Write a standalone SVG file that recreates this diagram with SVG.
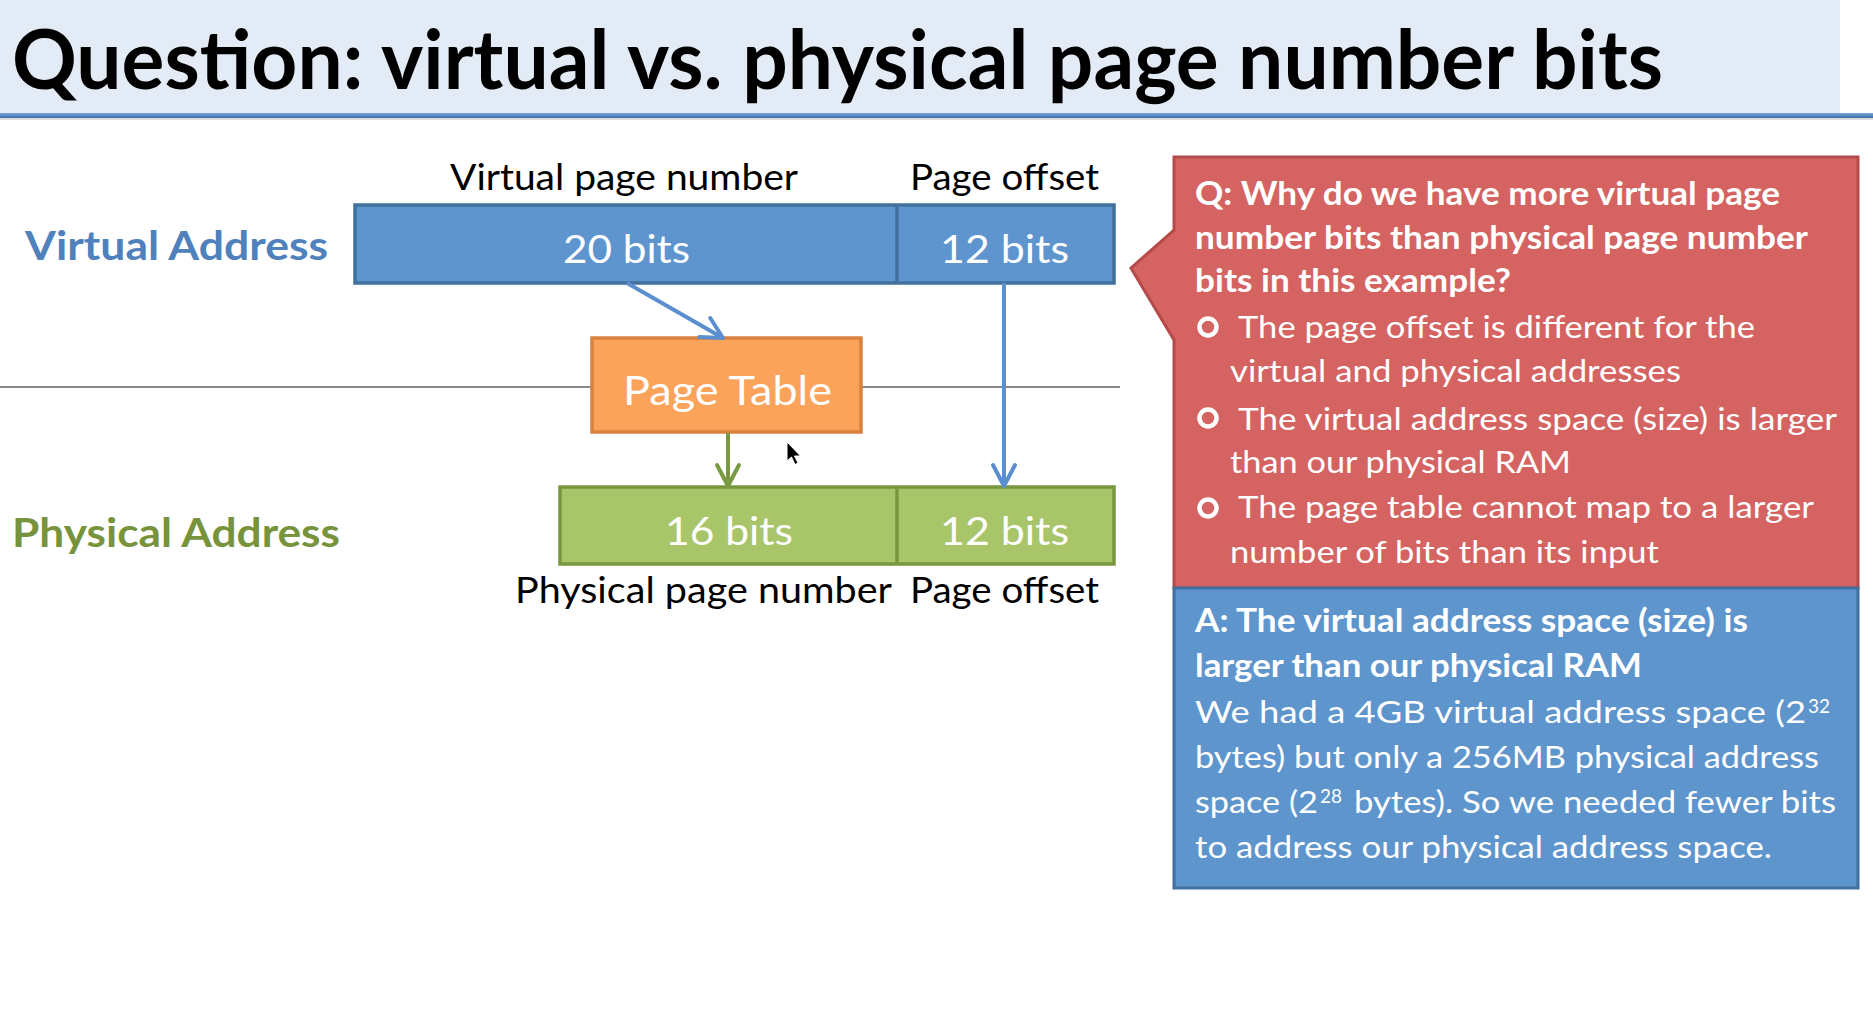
<svg xmlns="http://www.w3.org/2000/svg" width="1873" height="1024" viewBox="0 0 1873 1024">
<style>
text{font-family:Lato,"Open Sans","Liberation Sans",sans-serif}
.lbl{font-size:37px;fill:#000}
.bits{font-size:39px;fill:#fff}
.qb{font-size:32px;font-weight:bold;fill:#fff}
.qr{font-size:31px;fill:#fff}
.sup{font-size:20px;fill:#fff}
.bul{fill:none;stroke:#fff;stroke-width:4.5}
</style>
<defs>
<linearGradient id="bar" x1="0" y1="0" x2="0" y2="1">
<stop offset="0" stop-color="#7aa6d8"/>
<stop offset="1" stop-color="#3c6eab"/>
</linearGradient>
<marker id="ahB" markerUnits="userSpaceOnUse" orient="auto" refX="0" refY="0" overflow="visible">
<path d="M-21,-11 L0,0 L-21,11" fill="none" stroke="#5b8fcf" stroke-width="4" stroke-linecap="round" stroke-linejoin="round"/>
</marker>
<marker id="ahG" markerUnits="userSpaceOnUse" orient="auto" refX="0" refY="0" overflow="visible">
<path d="M-21,-11 L0,0 L-21,11" fill="none" stroke="#7a9a42" stroke-width="4" stroke-linecap="round" stroke-linejoin="round"/>
</marker>
</defs>
<rect width="1873" height="1024" fill="#fff"/>
<g id="title">
<rect x="0" y="0" width="1840" height="113" fill="#e3ecf6"/>
<rect x="0" y="113" width="1873" height="5" fill="url(#bar)"/>
<rect x="0" y="118" width="1873" height="2" fill="#dcdcdc"/>
<text x="12" y="89" font-size="82" font-weight="bold" fill="#000" textLength="1651" lengthAdjust="spacingAndGlyphs">Question: virtual vs. physical page number bits</text>
</g>
<line x1="0" y1="387" x2="1120" y2="387" stroke="#8a8a8a" stroke-width="2"/>
<g id="virtual-address">
<text x="25" y="260" font-size="40" font-weight="bold" fill="#4f81bd" textLength="303" lengthAdjust="spacingAndGlyphs">Virtual Address</text>
<text class="lbl" x="450" y="190" textLength="348" lengthAdjust="spacingAndGlyphs">Virtual page number</text>
<text class="lbl" x="910" y="190" textLength="189" lengthAdjust="spacingAndGlyphs">Page offset</text>
<rect x="355" y="205" width="759" height="78" fill="#5e95cf" stroke="#41719c" stroke-width="3.5"/>
<line x1="897" y1="205" x2="897" y2="283" stroke="#41719c" stroke-width="3.5"/>
<text class="bits" x="563" y="263" textLength="127" lengthAdjust="spacingAndGlyphs">20 bits</text>
<text class="bits" x="940" y="263" textLength="129" lengthAdjust="spacingAndGlyphs">12 bits</text>
</g>
<g id="page-table">
<rect x="592" y="338" width="269" height="94" fill="#fba35a" stroke="#d9823f" stroke-width="3.5"/>
<text x="623" y="405" font-size="41" fill="#fff" textLength="209" lengthAdjust="spacingAndGlyphs">Page Table</text>
</g>
<g id="physical-address">
<text x="12" y="547" font-size="41" font-weight="bold" fill="#77933c" textLength="328" lengthAdjust="spacingAndGlyphs">Physical Address</text>
<rect x="560" y="487" width="554" height="77" fill="#a8c56a" stroke="#78973f" stroke-width="3.5"/>
<line x1="897" y1="487" x2="897" y2="564" stroke="#78973f" stroke-width="3.5"/>
<text class="bits" x="665" y="545" textLength="128" lengthAdjust="spacingAndGlyphs">16 bits</text>
<text class="bits" x="940" y="545" textLength="129" lengthAdjust="spacingAndGlyphs">12 bits</text>
<text class="lbl" x="515" y="603" textLength="377" lengthAdjust="spacingAndGlyphs">Physical page number</text>
<text class="lbl" x="910" y="603" textLength="189" lengthAdjust="spacingAndGlyphs">Page offset</text>
</g>
<g id="connectors">
<line x1="627" y1="283" x2="723" y2="338" stroke="#5b8fcf" stroke-width="4" marker-end="url(#ahB)"/>
<line x1="1004" y1="283" x2="1004" y2="486" stroke="#5b8fcf" stroke-width="4" marker-end="url(#ahB)"/>
<line x1="728" y1="433" x2="728" y2="486" stroke="#7a9a42" stroke-width="4" marker-end="url(#ahG)"/>
</g>
<g id="cursor">
<path d="M787,442 L787,461 L791.5,457 L795,464.5 L798,463 L794.5,456 L800.5,456 Z" fill="#000" stroke="#fff" stroke-width="1"/>
</g>
<g id="question">
<path d="M1174,157 H1858 V588 H1174 V340 L1131,268 L1174,230 Z" fill="#d46361" stroke="#b44b49" stroke-width="3"/>
<text class="qb" x="1195" y="205" textLength="585" lengthAdjust="spacingAndGlyphs">Q: Why do we have more virtual page</text>
<text class="qb" x="1195" y="249" textLength="613" lengthAdjust="spacingAndGlyphs">number bits than physical page number</text>
<text class="qb" x="1195" y="292" textLength="316" lengthAdjust="spacingAndGlyphs">bits in this example?</text>
<circle class="bul" cx="1208" cy="327" r="8.5"/>
<text class="qr" x="1238" y="338" textLength="517" lengthAdjust="spacingAndGlyphs">The page offset is different for the</text>
<text class="qr" x="1230" y="382" textLength="451" lengthAdjust="spacingAndGlyphs">virtual and physical addresses</text>
<circle class="bul" cx="1208" cy="418" r="8.5"/>
<text class="qr" x="1238" y="430" textLength="599" lengthAdjust="spacingAndGlyphs">The virtual address space (size) is larger</text>
<text class="qr" x="1230" y="473" textLength="341" lengthAdjust="spacingAndGlyphs">than our physical RAM</text>
<circle class="bul" cx="1208" cy="508" r="8.5"/>
<text class="qr" x="1238" y="518" textLength="576" lengthAdjust="spacingAndGlyphs">The page table cannot map to a larger</text>
<text class="qr" x="1230" y="563" textLength="429" lengthAdjust="spacingAndGlyphs">number of bits than its input</text>
</g>
<g id="answer">
<rect x="1174" y="588" width="684" height="300" fill="#5e95cd" stroke="#41709f" stroke-width="3"/>
<text class="qb" x="1195" y="632" textLength="553" lengthAdjust="spacingAndGlyphs">A: The virtual address space (size) is</text>
<text class="qb" x="1195" y="677" textLength="447" lengthAdjust="spacingAndGlyphs">larger than our physical RAM</text>
<text class="qr" x="1195" y="723" textLength="611" lengthAdjust="spacingAndGlyphs">We had a 4GB virtual address space (2</text>
<text class="sup" x="1808" y="713" textLength="22" lengthAdjust="spacingAndGlyphs">32</text>
<text class="qr" x="1195" y="768" textLength="624" lengthAdjust="spacingAndGlyphs">bytes) but only a 256MB physical address</text>
<text class="qr" x="1195" y="813" textLength="123" lengthAdjust="spacingAndGlyphs">space (2</text>
<text class="sup" x="1320" y="803" textLength="22" lengthAdjust="spacingAndGlyphs">28</text>
<text class="qr" x="1354" y="813" textLength="482" lengthAdjust="spacingAndGlyphs">bytes). So we needed fewer bits</text>
<text class="qr" x="1195" y="858" textLength="577" lengthAdjust="spacingAndGlyphs">to address our physical address space.</text>
</g>
</svg>
